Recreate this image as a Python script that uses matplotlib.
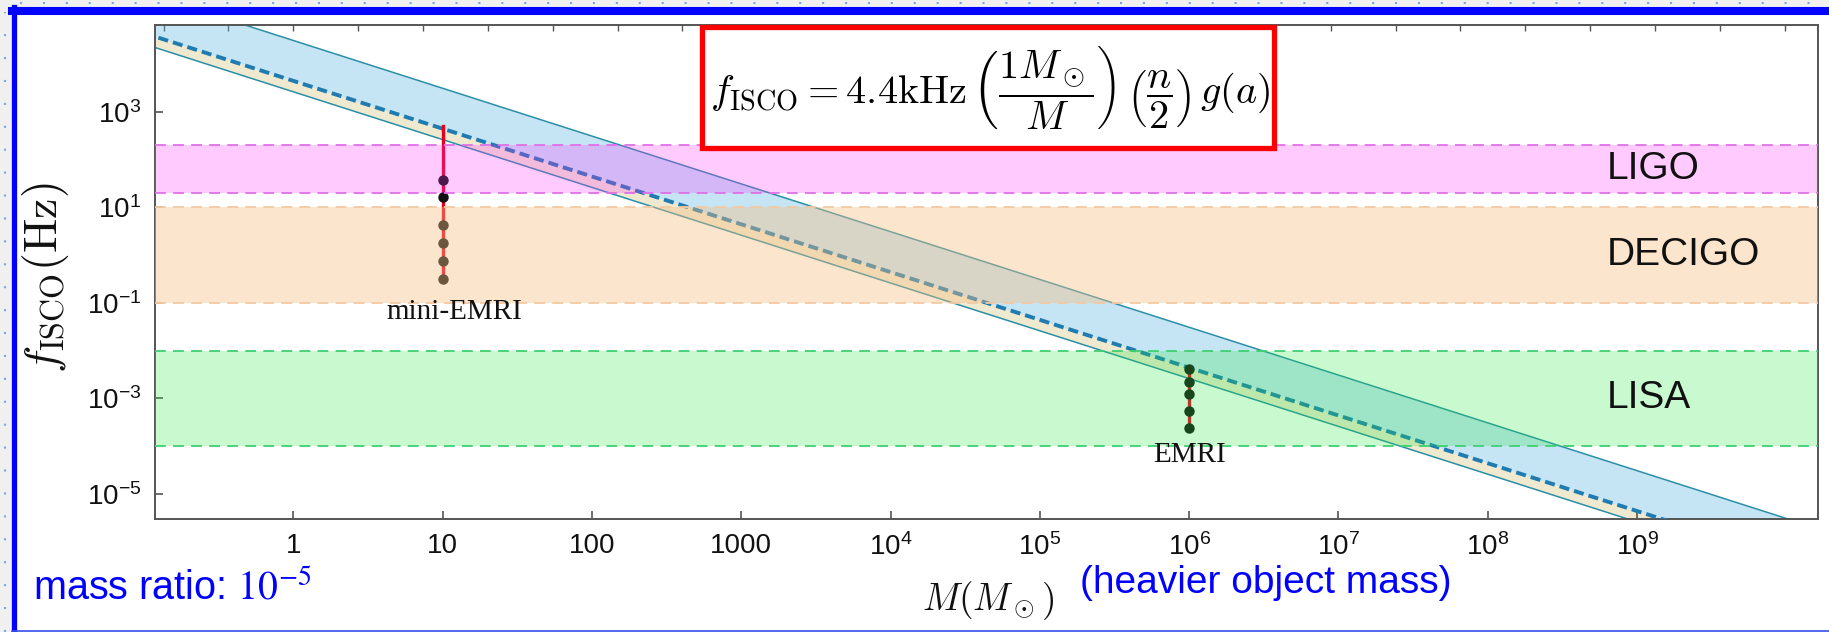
import numpy as np
import matplotlib.pyplot as plt
from matplotlib.patches import Rectangle
from matplotlib.lines import Line2D

plt.rcParams['font.family'] = ['Liberation Sans', 'DejaVu Sans']
plt.rcParams['mathtext.fontset'] = 'custom'
plt.rcParams['mathtext.rm'] = 'Liberation Sans'
plt.rcParams['mathtext.it'] = 'Liberation Sans:italic'

# ISCO lines (straight on log-log), values read at the two ends of the mass range
MASS_ENDS = [0.1, 1e11]
F_LOWER = [2.6e4, 2.6e-8]      # retrograde edge
F_DASHED = [4.4e4, 4.4e-8]     # 4.4 kHz / M
F_UPPER = [3.08e5, 3.08e-7]    # prograde edge

# detector bands
DETECTORS = ['LIGO', 'DECIGO', 'LISA']
F_LOW = [20, 0.1, 1e-4]
F_HIGH = [200, 10, 1e-2]
BAND_FACE = [(1.0, 0.2, 1.0), (0.965, 0.75, 0.51), (0.16, 0.91, 0.25)]
BAND_ALPHA = [0.25, 0.40, 0.25]
BAND_EDGE = ['#e070e8', '#f3c9a2', '#3fd070']

# inspiral tracks
MINI_M = 10
MINI_TOP = 490
MINI_F = [37, 16.7, 4.15, 1.78, 0.76, 0.32]
EMRI_M = 1e6
EMRI_F = [4.18e-3, 2.23e-3, 1.21e-3, 5.4e-4, 2.36e-4]

XTICKS = [1, 10, 100, 1000, 1e4, 1e5, 1e6, 1e7, 1e8, 1e9]
XTICKLABELS = ['1', '10', '100', '1000', '$10^{4}$', '$10^{5}$', '$10^{6}$',
               '$10^{7}$', '$10^{8}$', '$10^{9}$']
YTICKS = [1e3, 1e1, 1e-1, 1e-3, 1e-5]
YTICKLABELS = ['$10^{3}$', '$10^{1}$', '$10^{-1}$', '$10^{-3}$', '$10^{-5}$']

W, H = 1829, 632
fig = plt.figure(figsize=(W / 100, H / 100), dpi=100, facecolor='#f0f0f0')

# slide frame
fig.add_artist(Rectangle((12 / W, 1 - 630 / H), 1, (630 - 11) / H,
                         transform=fig.transFigure, fc='white', ec='none', zorder=-5))
fig.add_artist(Line2D([5 / W, 5 / W], [0, 1 - 12 / H], transform=fig.transFigure,
                      color='#7aa6e0', lw=1.5, ls=(0, (1, 10)), zorder=-4))
fig.add_artist(Line2D([20 / W, 1], [1 - 3 / H, 1 - 3 / H], transform=fig.transFigure,
                      color='#7aa6e0', lw=1.5, ls=(0, (1, 10)), zorder=-4))
fig.add_artist(Line2D([14.5 / W, 14.5 / W], [1 - 631 / H, 1 - 7 / H], transform=fig.transFigure,
                      color='#0000ff', lw=3.8, zorder=-3))
fig.add_artist(Line2D([12 / W, 1], [1 - 11 / H, 1 - 11 / H], transform=fig.transFigure,
                      color='#0000ff', lw=5.8, zorder=-3))
fig.add_artist(Line2D([12 / W, 1], [1 - 630.5 / H, 1 - 630.5 / H], transform=fig.transFigure,
                      color='#3a50f0', lw=1.2, zorder=-3))

ax = fig.add_axes([155 / W, 1 - 519 / H, (1818 - 155) / W, (519 - 25) / H])
ax.set_xscale('log')
ax.set_yscale('log')
ax.set_xlim(0.1185, 1.63e10)
ax.set_ylim(3.0e-6, 6.49e4)

# ISCO band
ax.fill_between(MASS_ENDS, F_LOWER, F_DASHED, color='#d9c98a', alpha=0.4, lw=0, zorder=1)
ax.fill_between(MASS_ENDS, F_DASHED, F_UPPER, color='#5ab4e0', alpha=0.35, lw=0, zorder=1)
ax.plot(MASS_ENDS, F_LOWER, color='#2a8fa6', lw=1.1, zorder=2)
ax.plot(MASS_ENDS, F_UPPER, color='#2a8fa6', lw=1.1, zorder=2)
ax.plot(MASS_ENDS, F_DASHED, color='#1f7bb0', lw=2.8, dashes=(2.6, 1.3), zorder=3)

# tracks
ax.plot([MINI_M, MINI_M], [MINI_TOP, MINI_F[-1]], color='#e6001e', lw=2.4, zorder=4)
ax.plot([MINI_M] * len(MINI_F), MINI_F, 'o', color='#111111', ms=6.5, zorder=5)
ax.plot([EMRI_M, EMRI_M], [EMRI_F[0], EMRI_F[-1]], color='#e6001e', lw=2.4, zorder=4)
ax.plot([EMRI_M] * len(EMRI_F), EMRI_F, 'o', color='#111111', ms=6.5, zorder=5)

# detector bands drawn over
for name, lo, hi, fc, a, ec in zip(DETECTORS, F_LOW, F_HIGH, BAND_FACE, BAND_ALPHA, BAND_EDGE):
    ax.axhspan(lo, hi, color=fc, alpha=a, lw=0, zorder=6)
    ax.axhline(lo, color=ec, lw=1.3, dashes=(6, 4), zorder=7)
    ax.axhline(hi, color=ec, lw=1.3, dashes=(6, 4), zorder=7)
    ax.text(6.3e8, np.sqrt(lo * hi), name, fontsize=28, ha='left', va='center',
            color='#111111', zorder=8)

ax.text(12, 0.065, 'mini-EMRI', family='Liberation Serif', fontsize=21,
        ha='center', va='center', color='#111111', zorder=8)
ax.text(EMRI_M, 6.7e-5, 'EMRI', family='Liberation Serif', fontsize=21,
        ha='center', va='center', color='#111111', zorder=8)

# axes styling
ax.set_xticks(XTICKS)
ax.set_xticklabels(XTICKLABELS)
ax.set_yticks(YTICKS)
ax.set_yticklabels(YTICKLABELS)
ax.minorticks_off()
ax.tick_params(direction='in', length=6, width=1.2, color='#555555',
               labelsize=20, labelcolor='#111111', pad=10)
for s in ax.spines.values():
    s.set_color('#555555')
    s.set_linewidth(1.4)

top = ax.secondary_xaxis('top')
top.set_xticks(np.exp(np.arange(-2, 24)))
top.set_xticklabels([])
top.minorticks_off()
top.tick_params(direction='in', length=4, width=1.0, color='#555555')
top.spines['top'].set_visible(False)

ax.text(-0.066, 0.488, r'$f_{\rm ISCO}({\rm Hz})$', transform=ax.transAxes,
        rotation=90, ha='center', va='center', fontsize=33, math_fontfamily='cm',
        color='#111111')
ax.text(0.501, -0.166, r'$M(M_\odot)$', transform=ax.transAxes,
        ha='center', va='center', fontsize=27, math_fontfamily='cm', color='#111111')

# formula box
fig.add_artist(Rectangle((702 / W, 1 - 148 / H), (1274 - 702) / W, (148 - 27) / H,
                         transform=fig.transFigure, fc='white', ec='#ff0000', lw=3.8, zorder=10))
fig.text(990 / W, 1 - 88 / H,
         r'$f_{\rm ISCO} = 4.4{\rm kHz}\,\left(\dfrac{1M_\odot}{M}\right)\,'
         r'\left(\dfrac{n}{2}\right)\,g(a)$',
         ha='center', va='center', fontsize=29, math_fontfamily='cm', zorder=11)

fig.text(33 / W, 1 - 588 / H, r'mass ratio: $10^{-5}$', ha='left', va='center',
         fontsize=28.5, color='#0000ff', math_fontfamily='stix')
fig.text(1080 / W, 1 - 583 / H, '(heavier object mass)', ha='left', va='center',
         fontsize=28, color='#0000ff')

fig.savefig('out.png', dpi=100, facecolor=fig.get_facecolor())
